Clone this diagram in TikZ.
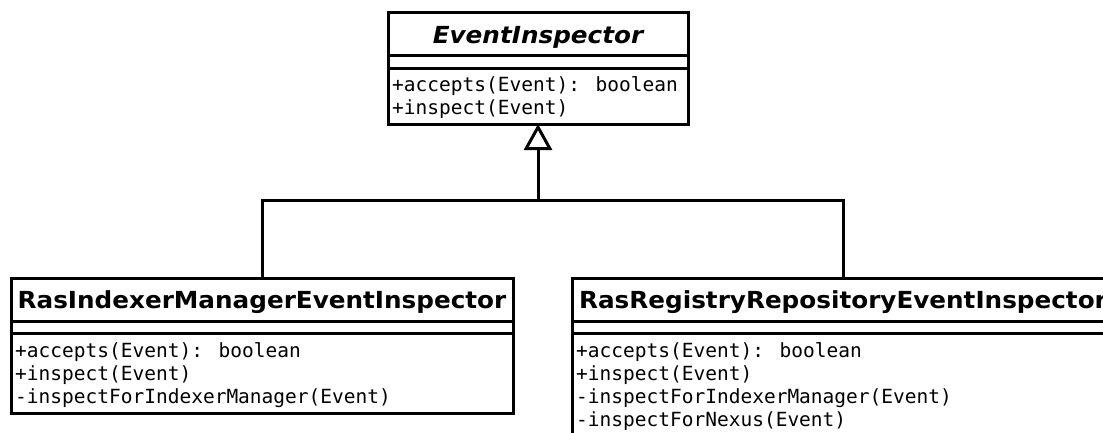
\documentclass[tikz,border=0pt]{standalone}
\usepackage{fontspec}
\setmainfont{DejaVu Sans}
\newfontfamily\titlefont{DejaVu Sans}[FakeStretch=1.05]
\newfontfamily\memberfont{DejaVu Sans Mono}
\usetikzlibrary{arrows.meta}
\tikzset{
  box/.style={draw, line width=3pt, outer sep=0pt, inner sep=0pt, fill=white},
  ttl/.style={font=\titlefont\bfseries\fontsize{23.5}{27}\selectfont, anchor=base, inner sep=0pt},
  mbr/.style={font=\memberfont\fontsize{19.5}{23}\selectfont, anchor=base west, inner sep=0pt},
  conn/.style={line width=3pt},
  divider/.style={line width=3pt}
}
\begin{document}
\begin{tikzpicture}[x=1pt,y=-1pt]
\useasboundingbox (0,0) rectangle (1103,432);
\clip (0,0) rectangle (1103,432);
\fill[white] (0,0) rectangle (1103,432);
% EventInspector
\node[box, minimum width=300pt, minimum height=112pt] (ei) at (538,68) {};
\node[ttl] (eit) at (538,43) {\itshape EventInspector};
\draw[divider] ([yshift=-43pt]ei.north west) -- ([yshift=-43pt]ei.north east);
\draw[divider] ([yshift=-56pt]ei.north west) -- ([yshift=-56pt]ei.north east);
\node[mbr] (ei1) at (392,91) {+accepts(Event): boolean};
\node[mbr] (ei2) at (392,114) {+inspect(Event)};
% RasIndexerManagerEventInspector
\node[box, anchor=north west, minimum width=502pt, minimum height=135pt] (rim) at (11,278) {};
\node[ttl] (rimt) at (262,308) {RasIndexerManagerEventInspector};
\draw[divider] ([yshift=-43pt]rim.north west) -- ([yshift=-43pt]rim.north east);
\draw[divider] ([yshift=-55.5pt]rim.north west) -- ([yshift=-55.5pt]rim.north east);
\node[mbr] (rim1) at (15,357) {+accepts(Event): boolean};
\node[mbr] (rim2) at (15,380) {+inspect(Event)};
\node[mbr] (rim3) at (15,403) {-inspectForIndexerManager(Event)};
% RasRegistryRepositoryEventInspector
\node[box, anchor=north west, minimum width=542pt, minimum height=158pt] (rr) at (572,278) {};
\node[ttl] (rrt) at (843,308) {RasRegistryRepositoryEventInspector};
\draw[divider] ([yshift=-43pt]rr.north west) -- ([yshift=-43pt]rr.north east);
\draw[divider] ([yshift=-55.5pt]rr.north west) -- ([yshift=-55.5pt]rr.north east);
\node[mbr] (rr1) at (576,357) {+accepts(Event): boolean};
\node[mbr] (rr2) at (576,380) {+inspect(Event)};
\node[mbr] (rr3) at (576,403) {-inspectForIndexerManager(Event)};
\node[mbr] (rr4) at (576,426) {-inspectForNexus(Event)};
% generalization
\coordinate (j) at (538,200);
\draw[conn] (rim.north) |- (j) -| (rr.north);
\draw[conn, -{Triangle[open, length=26pt, width=28pt]}] (j) -- (ei.south);
\end{tikzpicture}
\end{document}
